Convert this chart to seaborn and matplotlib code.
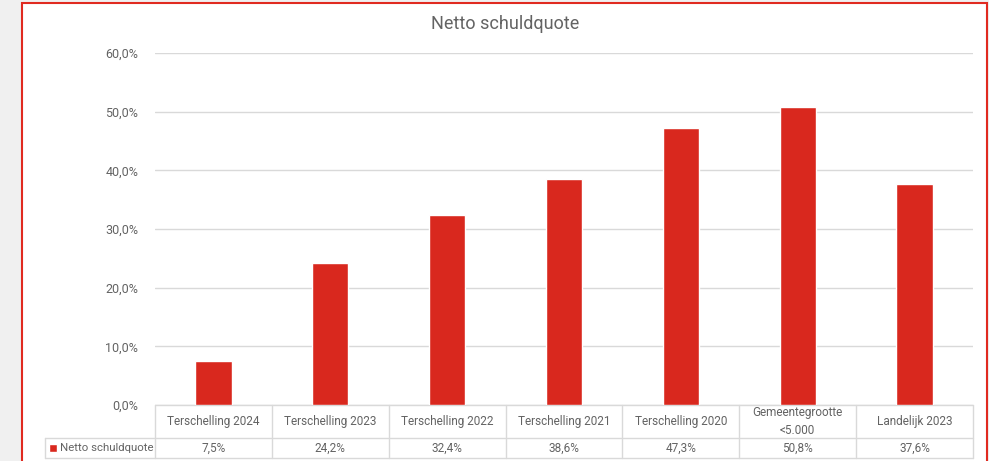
import matplotlib
matplotlib.use("Agg")
import matplotlib.pyplot as plt
import matplotlib.patches as mpatches
from matplotlib.ticker import FuncFormatter
import seaborn as sns
import pandas as pd

categories = ["Terschelling 2024", "Terschelling 2023", "Terschelling 2022",
              "Terschelling 2021", "Terschelling 2020", "Gemeentegrootte\n<5.000",
              "Landelijk 2023"]
values = [7.5, 24.2, 32.4, 38.6, 47.3, 50.8, 37.6]
series_name = "Netto schuldquote"
title = "Netto schuldquote"

RED = "#d9281e"
GRID = "#d9d9d9"
TXT = "#636363"

sns.set_theme(style="white")
plt.rcParams["font.family"] = ["Roboto", "DejaVu Sans"]

W, H = 989, 461
fig = plt.figure(figsize=(W / 100, H / 100), dpi=100, facecolor="#f0f0f0")

# chart frame (white with red border)
fig.add_artist(mpatches.Rectangle((22 / W, -0.05), (987 - 22) / W, 1.05 - 3 / H,
                                  transform=fig.transFigure, facecolor="white",
                                  edgecolor="#e02a20", linewidth=1.5, zorder=0))

px_l, px_r, px_top, px_bot = 155, 973, 53, 405
ax = fig.add_axes([px_l / W, (H - px_bot) / H, (px_r - px_l) / W, (px_bot - px_top) / H])
ax.set_facecolor("none")

df = pd.DataFrame({"cat": categories, "val": values})
sns.barplot(data=df, x="cat", y="val", color=RED, width=0.31, saturation=1, ax=ax, zorder=3)

ax.set_ylim(0, 60)
ax.set_xlim(-0.5, len(categories) - 0.5)
ax.set_yticks(range(0, 61, 10))
ax.yaxis.set_major_formatter(FuncFormatter(lambda v, p: f"{v:.1f}%".replace(".", ",")))
ax.tick_params(axis="y", length=0, pad=12, labelsize=9, labelcolor=TXT)
ax.set_xticks([])
ax.set_xlabel("")
ax.set_ylabel("")
ax.grid(axis="y", color=GRID, linewidth=1, zorder=0)
for s in ax.spines.values():
    s.set_visible(False)

# data table below the axis
ah = px_bot - px_top
aw = px_r - px_l
y1 = -(438 - px_bot) / ah
y2 = -(458 - px_bot) / ah
xleft = -(px_l - 45) / aw
lk = dict(color=GRID, linewidth=1, transform=ax.transAxes, clip_on=False)
ax.plot([0, 1], [0, 0], **lk)
ax.plot([xleft, 1], [y1, y1], **lk)
ax.plot([xleft, 1], [y2, y2], **lk)
ax.plot([xleft, xleft], [y1, y2], **lk)
n = len(categories)
for k in range(n + 1):
    ax.plot([k / n, k / n], [0, y2], **lk)
for i, (c, v) in enumerate(zip(categories, values)):
    xc = (i + 0.5) / n
    ax.text(xc, y1 / 2, c, transform=ax.transAxes, ha="center", va="center",
            fontsize=8.5, color=TXT, linespacing=1.5)
    ax.text(xc, (y1 + y2) / 2, f"{v:.1f}%".replace(".", ","), transform=ax.transAxes,
            ha="center", va="center", fontsize=8.5, color=TXT)
ax.add_patch(mpatches.Rectangle((xleft + 4 / aw, (y1 + y2) / 2 - 4 / ah), 8 / aw, 8 / ah,
                                transform=ax.transAxes, facecolor=RED, clip_on=False))
ax.text(xleft + 15 / aw, (y1 + y2) / 2, series_name, transform=ax.transAxes,
        ha="left", va="center", fontsize=8.2, color=TXT)

fig.text(505 / W, 1 - 24 / H, title, ha="center", va="center", fontsize=13, color=TXT)

fig.savefig("out.png", dpi=100, facecolor=fig.get_facecolor())
